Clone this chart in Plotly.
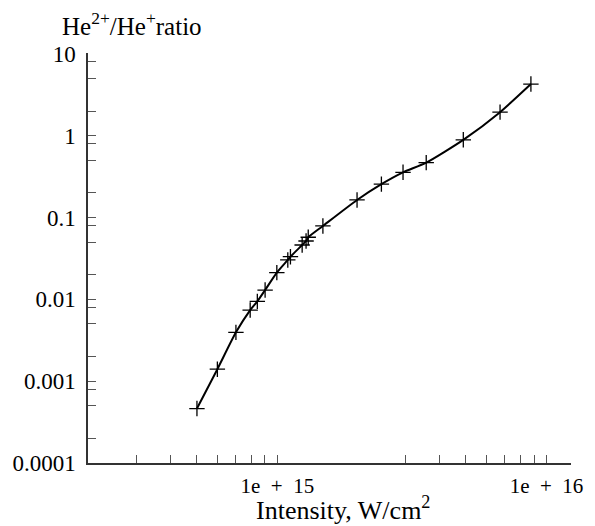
import numpy as np
import plotly.graph_objects as go

# Data (intensity in W/cm^2, He2+/He+ ratio)
intensity = [5.03e14, 5.99e14, 7.02e14, 7.93e14, 8.43e14, 9.01e14, 9.96e14, 1.094e15,
             1.119e15, 1.237e15, 1.279e15, 1.303e15, 1.477e15, 1.978e15, 2.436e15,
             2.931e15, 3.574e15, 4.908e15, 6.72e15, 8.75e15]
ratio = [4.63e-4, 1.40e-3, 3.95e-3, 7.4e-3, 9.45e-3, 1.30e-2, 2.12e-2, 3.03e-2,
         3.32e-2, 4.62e-2, 5.17e-2, 5.74e-2, 7.89e-2, 0.164, 0.256,
         0.357, 0.469, 0.891, 1.94, 4.28]

SP = "\u00a0\u00a0"
x_tickvals = [3e14, 4e14, 5e14, 6e14, 7e14, 8e14, 9e14, 1e15,
              3e15, 4e15, 5e15, 6e15, 7e15, 8e15, 9e15, 1e16]
x_ticktext = ["", "", "", "", "", "", "", "1e" + SP + "+" + SP + "15",
              "", "", "", "", "", "", "", "1e" + SP + "+" + SP + "16"]

y_major = [10, 1, 0.1, 0.01, 0.001, 0.0001]
y_major_text = ["10", "1", "0.1", "0.01", "0.001", "0.0001"]
y_minor_factors = [0.8, 0.5, 0.2]

y_tickvals = []
y_ticktext = []
for v, t in zip(y_major, y_major_text):
    y_tickvals.append(v)
    y_ticktext.append(t)
    if v > 0.0001:
        for f in y_minor_factors:
            y_tickvals.append(v * f)
            y_ticktext.append("")

FONT = "Liberation Serif"

fig = go.Figure()
fig.add_trace(go.Scatter(
    x=intensity, y=ratio, mode="lines+markers",
    line=dict(color="black", width=2, shape="spline", smoothing=0.6),
    marker=dict(symbol="cross-thin", size=11, line=dict(color="black", width=1.3)),
    showlegend=False,
))

W, H = 595, 526
L, R, T, B = 82, 17, 53, 63

fig.update_layout(
    width=W, height=H,
    margin=dict(l=L, r=R, t=T, b=B, pad=0),
    paper_bgcolor="white", plot_bgcolor="white",
    font=dict(family=FONT, size=20, color="black"),
    xaxis=dict(
        type="log", range=[14.2969, 16.0909],
        tickmode="array", tickvals=x_tickvals, ticktext=x_ticktext,
        ticks="inside", ticklen=8, tickwidth=1, tickcolor="#555",
        showline=True, linecolor="#333", linewidth=1.5,
        showgrid=False, zeroline=False, mirror=False,
        tickfont=dict(family=FONT, size=21, color="black"),
        ticklabelstandoff=3,
    ),
    yaxis=dict(
        type="log", range=[-4, 1.011],
        tickmode="array", tickvals=y_tickvals, ticktext=y_ticktext,
        ticks="inside", ticklen=8, tickwidth=1, tickcolor="#555",
        showline=True, linecolor="#333", linewidth=1.5,
        showgrid=False, zeroline=False, mirror=False,
        tickfont=dict(family=FONT, size=23, color="black"),
        ticklabelstandoff=6,
    ),
)

pw = W - L - R
ph = H - T - B
fig.add_annotation(
    text="He<sup>2+</sup>/He<sup>+</sup>ratio",
    xref="paper", yref="paper",
    x=(53 - L) / pw, y=(H - B - 24) / ph,
    xanchor="left", yanchor="middle", showarrow=False,
    font=dict(family=FONT, size=25, color="black"),
)
fig.add_annotation(
    text="Intensity, W/cm<sup>2</sup>",
    xref="paper", yref="paper",
    x=(344 - L) / pw, y=(H - B - 508) / ph,
    xanchor="center", yanchor="middle", showarrow=False,
    font=dict(family=FONT, size=26, color="black"),
)

fig.write_html("out.html")
